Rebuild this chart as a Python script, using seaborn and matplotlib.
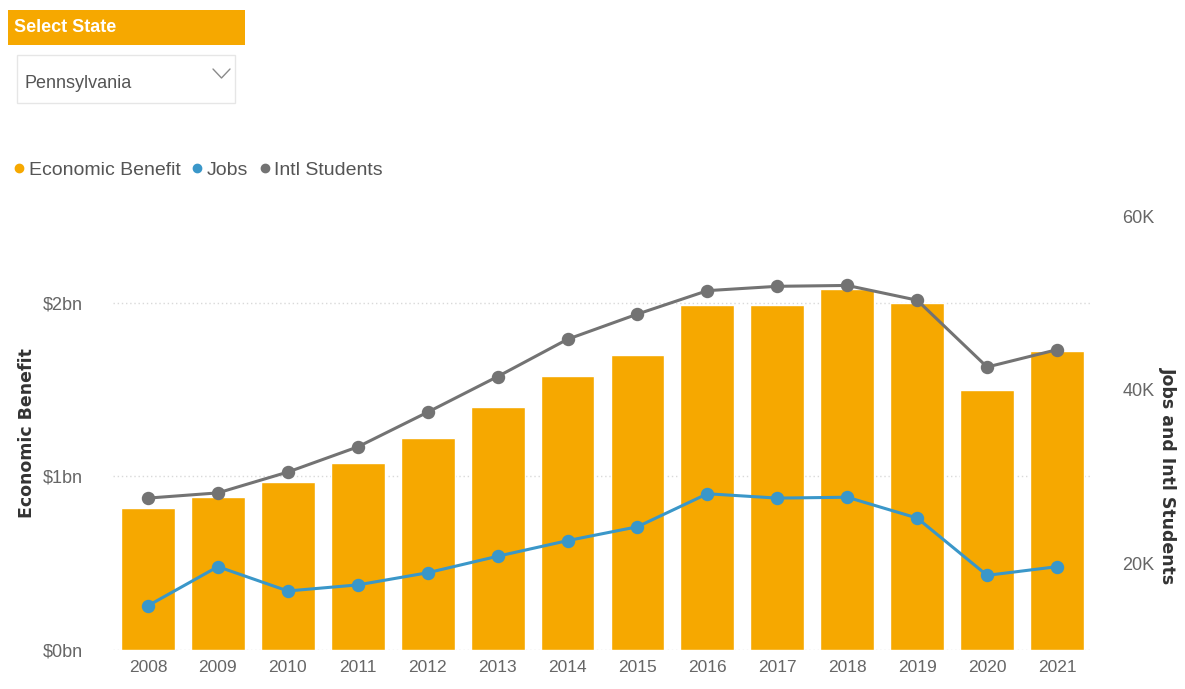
import numpy as np
import pandas as pd
import matplotlib
matplotlib.use("Agg")
import matplotlib.pyplot as plt
from matplotlib.patches import Rectangle
from matplotlib.lines import Line2D
import seaborn as sns

# ---- data ----
years = ["2008", "2009", "2010", "2011", "2012", "2013", "2014",
         "2015", "2016", "2017", "2018", "2019", "2020", "2021"]
benefit_bn = [0.82, 0.88, 0.97, 1.08, 1.22, 1.40, 1.58,
              1.70, 1.99, 1.99, 2.08, 2.00, 1.50, 1.72]
jobs_k = [15.1, 19.6, 16.8, 17.5, 18.9, 20.8, 22.6,
          24.2, 28.0, 27.5, 27.6, 25.2, 18.6, 19.6]
students_k = [27.5, 28.1, 30.5, 33.4, 37.4, 41.5, 45.8,
              48.7, 51.4, 51.9, 52.0, 50.3, 42.6, 44.6]
left_ticks = [0, 1, 2]
left_labels = ["\\$0bn", "\\$1bn", "\\$2bn"]
right_ticks = [20, 40, 60]
right_labels = ["20K", "40K", "60K"]
legend_labels = ["Economic Benefit", "Jobs", "Intl Students"]
state_name = "Pennsylvania"

# ---- style ----
ORANGE = "#F6A800"
BLUE = "#3A97C9"
GREY = "#737373"
TICK = "#666666"

sns.set_theme(style="white")
plt.rcParams["font.family"] = ["Liberation Sans", "DejaVu Sans"]

W, H = 1185, 689
fig = plt.figure(figsize=(W / 100, H / 100), dpi=100)


def fx(px):
    return px / W


def fy(py):
    return 1 - py / H


# plot area in pixels: left 113, right 1092, top 216, bottom 650
ax = fig.add_axes([fx(113), fy(650), fx(1092) - fx(113), fy(216) - fy(650)])

df = pd.DataFrame({"year": years, "benefit": benefit_bn,
                   "jobs": jobs_k, "students": students_k})

sns.barplot(data=df, x="year", y="benefit", color=ORANGE, saturation=1,
            width=0.77, ax=ax, zorder=2)
ax.set_ylim(0, 2.5)
ax.set_yticks(left_ticks)
ax.set_yticklabels(left_labels)
ax.yaxis.grid(True, linestyle=(0, (1, 2)), color="#d9d9d9", linewidth=1, zorder=0)
ax.set_axisbelow(True)

ax2 = ax.twinx()
sns.pointplot(data=df, x="year", y="students", color=GREY, markers="o",
              markersize=8, linewidth=2.2, errorbar=None, ax=ax2)
sns.pointplot(data=df, x="year", y="jobs", color=BLUE, markers="o",
              markersize=8, linewidth=2.2, errorbar=None, ax=ax2)
ax2.set_ylim(10, 60)
ax2.set_yticks(right_ticks)
ax2.set_yticklabels(right_labels)
ax2.grid(False)
ax.set_xlim(-0.5, len(years) - 0.5)

for a in (ax, ax2):
    for s in a.spines.values():
        s.set_visible(False)
    a.set_xlabel("")
    a.set_ylabel("")
    a.tick_params(length=0)

ax.tick_params(axis="y", pad=22, labelsize=13, labelcolor=TICK)
ax2.tick_params(axis="y", pad=22, labelsize=13, labelcolor=TICK)
ax.tick_params(axis="x", pad=7, labelsize=12.5, labelcolor=TICK)

# axis titles
fig.text(fx(27), fy(433), "Economic Benefit", rotation=90, ha="center", va="center",
         family="DejaVu Sans", fontweight="bold", fontsize=12.5, color="#333333")
fig.text(fx(1168), fy(476), "Jobs and Intl Students", rotation=270, ha="center",
         va="center", family="DejaVu Sans", fontweight="bold", fontsize=12.5,
         color="#333333")

# legend
handles = [Line2D([], [], marker="o", linestyle="", color=c, markersize=6)
           for c in (ORANGE, BLUE, GREY)]
fig.legend(handles, legend_labels, loc="center left", bbox_to_anchor=(fx(14), fy(170)),
           ncol=3, frameon=False, handlelength=0.5, handletextpad=0.25,
           columnspacing=0.6, borderaxespad=0, borderpad=0, fontsize=14,
           labelcolor="#555555")

# state slicer header
fig.patches.append(Rectangle((fx(8), fy(45)), fx(245) - fx(8), fy(10) - fy(45),
                             transform=fig.transFigure, facecolor=ORANGE,
                             edgecolor="none"))
fig.text(fx(14), fy(28), "Select State", ha="left", va="center", color="white",
         fontweight="bold", fontsize=13)

# dropdown box
fig.patches.append(Rectangle((fx(17), fy(103)), fx(235) - fx(17), fy(55) - fy(103),
                             transform=fig.transFigure, facecolor="white",
                             edgecolor="#e6e6e6", linewidth=1))
fig.text(fx(25), fy(84), state_name, ha="left", va="center", color="#555555",
         fontsize=13)
fig.add_artist(Line2D([fx(213), fx(221.5), fx(230)], [fy(69), fy(78), fy(69)],
                      transform=fig.transFigure, color="#8a8a8a", linewidth=1))

fig.savefig("out.png", dpi=100)
